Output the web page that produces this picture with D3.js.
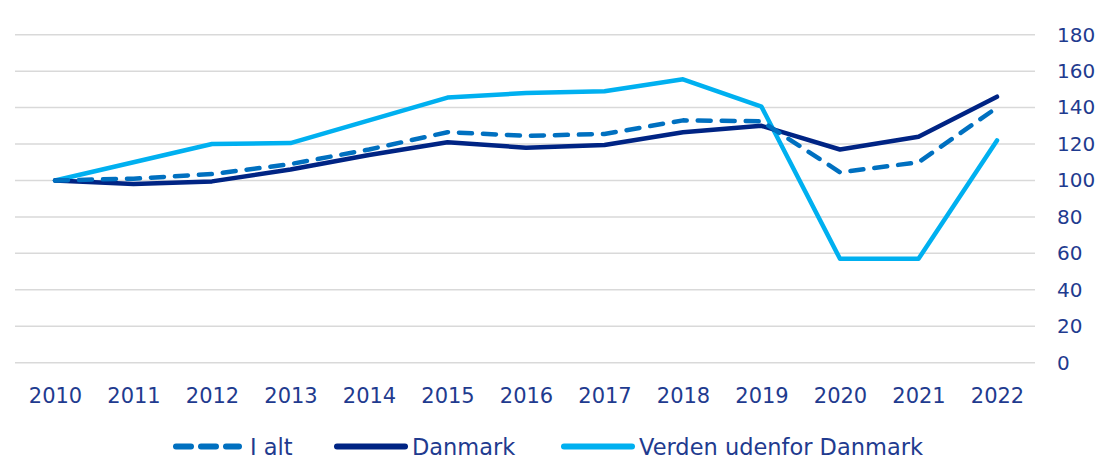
<!DOCTYPE html>
<html lang="da">
<head>
<meta charset="UTF-8">
<title>Indeks 2010=100</title>
<script src="https://d3js.org/d3.v7.min.js"></script>
<style>
    body { margin: 0; background: #fff; }
    svg text { font-family: "DejaVu Sans", sans-serif; fill: #1f3b8f; }
</style>
</head>
<body>
<div id="chart"></div>
<script>
    // data
    const years = ["2010", "2011", "2012", "2013", "2014", "2015", "2016", "2017", "2018", "2019", "2020", "2021", "2022"];
    const iAlt = [100, 101, 103.5, 109, 117, 126.5, 124.5, 125.5, 133, 132.5, 104.5, 110, 140];
    const danmark = [100, 98, 99.5, 106, 114, 121, 118, 119.5, 126.5, 130, 117, 124, 146];
    const verden = [100, 110, 120, 120.5, 133, 145.5, 148, 149, 155.5, 140.5, 57, 57, 122];
    const yTicks = [0, 20, 40, 60, 80, 100, 120, 140, 160, 180];

    const series = [
        { name: "I alt", values: iAlt, color: "#0070c0", dash: "13,11" },
        { name: "Danmark", values: danmark, color: "#002484", dash: null },
        { name: "Verden udenfor Danmark", values: verden, color: "#00b0f0", dash: null }
    ];

    const width = 1102, height = 459;
    const svg = d3.select("#chart").append("svg")
        .attr("width", width).attr("height", height);

    const x = d3.scalePoint().domain(years).range([55, 997]);
    const y = d3.scaleLinear().domain([0, 180]).range([362.7, 34.7]);

    // gridlines
    svg.append("g")
        .selectAll("line")
        .data(yTicks)
        .join("line")
        .attr("x1", 15).attr("x2", 1035)
        .attr("y1", d => y(d)).attr("y2", d => y(d))
        .attr("stroke", "#d9d9d9").attr("stroke-width", 1.5);

    // right axis labels
    const yAxis = svg.append("g")
        .attr("transform", "translate(1057,0)")
        .call(d3.axisRight(y).tickValues(yTicks).tickSize(0).tickPadding(0));
    yAxis.select(".domain").remove();
    yAxis.selectAll("text").attr("font-size", 20).attr("text-anchor", "start")
        .attr("fill", "#1f3b8f");

    // bottom axis labels
    const xAxis = svg.append("g")
        .attr("transform", "translate(0,402.5)")
        .call(d3.axisBottom(x).tickSize(0).tickPadding(0));
    xAxis.select(".domain").remove();
    xAxis.selectAll("text").attr("font-size", 21).attr("dy", 0)
        .attr("fill", "#1f3b8f");

    // lines
    const line = d3.line()
        .x((d, i) => x(years[i]))
        .y(d => y(d));

    const order = [series[2], series[1], series[0]];
    svg.append("g")
        .selectAll("path")
        .data(order)
        .join("path")
        .attr("d", d => line(d.values))
        .attr("fill", "none")
        .attr("stroke", d => d.color)
        .attr("stroke-width", 4.5)
        .attr("stroke-linejoin", "round")
        .attr("stroke-linecap", "round")
        .attr("stroke-dasharray", d => d.dash);

    // legend
    const legendX = [176, 337, 564];
    const legendText = [250, 412, 639];
    const leg = svg.append("g")
        .selectAll("g")
        .data(series)
        .join("g");

    leg.append("line")
        .attr("x1", (d, i) => legendX[i])
        .attr("x2", (d, i) => d.dash ? legendX[i] + 63 : legendX[i] + 68)
        .attr("y1", 446.5).attr("y2", 446.5)
        .attr("stroke", d => d.color)
        .attr("stroke-width", 6)
        .attr("stroke-linecap", "round")
        .attr("stroke-dasharray", d => d.dash ? "15,10" : null);

    leg.append("text")
        .attr("x", (d, i) => legendText[i])
        .attr("y", 454.5)
        .attr("font-size", 22.5)
        .text(d => d.name);
</script>
</body>
</html>
